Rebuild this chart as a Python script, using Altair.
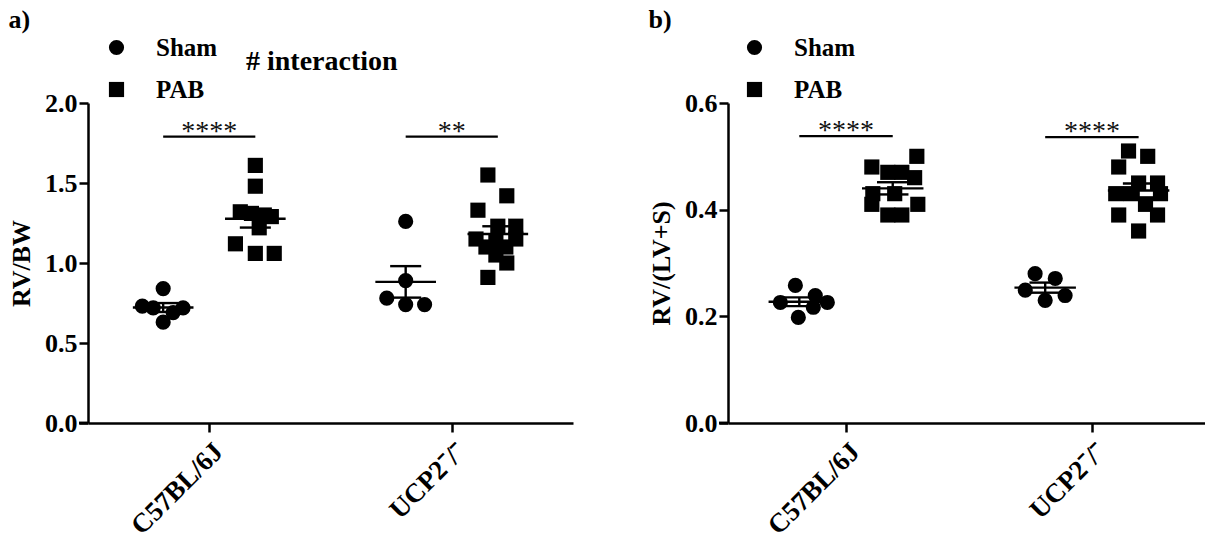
import altair as alt
import pandas as pd

FONT = "Liberation Serif"

strains = ["C57BL/6J", "UCP2⁻/⁻"]
groups = ["Sham", "PAB"]

# ---- Panel a: RV/BW ----
a_c57_sham = [0.84, 0.73, 0.72, 0.72, 0.69, 0.63]
a_c57_sham_jit = [0, -0.086, -0.041, 0.082, 0.041, 0]
a_c57_pab = [1.61, 1.48, 1.32, 1.31, 1.30, 1.29, 1.22, 1.12, 1.06, 1.06]
a_c57_pab_jit = [0, 0, -0.062, -0.016, 0.037, 0.066, 0.016, -0.082, 0, 0.078]
a_ucp_sham = [1.26, 0.89, 0.78, 0.74, 0.74]
a_ucp_sham_jit = [0, 0, -0.078, 0, 0.078]
a_ucp_pab = [1.55, 1.42, 1.33, 1.23, 1.23, 1.15, 1.14, 1.15, 1.10, 1.10, 1.05, 1.00, 0.91]
a_ucp_pab_jit = [-0.041, 0.037, -0.082, 0, 0.074, -0.09, -0.008, 0.074, -0.049, 0.033, -0.008, 0.037, -0.041]

# ---- Panel b: RV/(LV+S) ----
b_c57_sham = [0.258, 0.226, 0.239, 0.226, 0.217, 0.198]
b_c57_sham_jit = [-0.016, -0.077, 0.065, 0.114, 0.057, -0.004]
b_c57_pab = [0.50, 0.48, 0.47, 0.47, 0.46, 0.43, 0.43, 0.41, 0.41, 0.39, 0.39]
b_c57_pab_jit = [0.098, -0.085, -0.02, 0.037, 0.089, 0.008, -0.081, -0.085, 0.102, -0.02, 0.037]
b_ucp_sham = [0.28, 0.271, 0.249, 0.239, 0.23]
b_ucp_sham_jit = [-0.041, 0.041, -0.081, 0.081, 0]
b_ucp_pab = [0.51, 0.50, 0.48, 0.45, 0.45, 0.43, 0.43, 0.43, 0.41, 0.39, 0.39, 0.36]
b_ucp_pab_jit = [-0.041, 0.037, -0.081, 0, 0.077, -0.093, -0.033, 0.089, 0.028, -0.081, 0.077, 0]

# significance annotations
a_sig_labels = ["****", "**"]
a_sig_levels = [1.79, 1.79]
b_sig_labels = ["****", "****"]
b_sig_levels = [0.538, 0.536]

GOFF = 0.19


def make_df(sets):
    rows = []
    for si, g, vals, jits in sets:
        for v, j in zip(vals, jits):
            rows.append({"si": si, "group": g, "value": v, "jit": j})
    return pd.DataFrame(rows)


df_a = make_df([
    (1, "Sham", a_c57_sham, a_c57_sham_jit),
    (1, "PAB", a_c57_pab, a_c57_pab_jit),
    (2, "Sham", a_ucp_sham, a_ucp_sham_jit),
    (2, "PAB", a_ucp_pab, a_ucp_pab_jit),
])
df_b = make_df([
    (1, "Sham", b_c57_sham, b_c57_sham_jit),
    (1, "PAB", b_c57_pab, b_c57_pab_jit),
    (2, "Sham", b_ucp_sham, b_ucp_sham_jit),
    (2, "PAB", b_ucp_pab, b_ucp_pab_jit),
])
sig_a = pd.DataFrame({"si": [1, 2], "label": a_sig_labels, "level": a_sig_levels})
sig_b = pd.DataFrame({"si": [1, 2], "label": b_sig_labels, "level": b_sig_levels})

label_expr = f"datum.value == 1 ? '{strains[0]}' : '{strains[1]}'"


def panel(df, sig, ydomain, yvalues, ytitle, xdomain, width, title, legx, extra=None):
    xscale = alt.Scale(domain=xdomain, nice=False, zero=False)
    xaxis = alt.Axis(values=[1, 2], labelExpr=label_expr, title=None, labelAngle=315,
                     labelPadding=6, labelFontSize=27, grid=False)
    yscale = alt.Scale(domain=ydomain, nice=False, zero=True)
    yaxis = alt.Axis(values=yvalues, format=".1f", title=ytitle, grid=False, titlePadding=10)

    base = alt.Chart(df).transform_calculate(
        pos=f"datum.si + (datum.group == 'Sham' ? {-GOFF} : {GOFF})"
    )
    pts = base.transform_calculate(xp="datum.pos + datum.jit").mark_point(
        filled=True, color="black", opacity=1, size=230
    ).encode(
        x=alt.X("xp:Q", scale=xscale, axis=xaxis),
        y=alt.Y("value:Q", scale=yscale, axis=yaxis),
        shape=alt.Shape("group:N", scale=alt.Scale(domain=groups, range=["circle", "square"]),
                        legend=alt.Legend(orient="none", legendX=legx, legendY=-68, title=None,
                                          labelFont=FONT, labelFontSize=25, labelFontWeight="bold",
                                          labelColor="black", symbolSize=230, symbolFillColor="black",
                                          symbolStrokeColor="black", rowPadding=16, labelOffset=27,
                                          padding=0)),
    )
    stats = base.transform_aggregate(
        mean="mean(value)", sem="stderr(value)", groupby=["si", "group", "pos"]
    ).transform_calculate(
        lo="datum.mean - datum.sem", hi="datum.mean + datum.sem",
        xl="datum.pos - 0.125", xr="datum.pos + 0.125",
        cl="datum.pos - 0.064", cr="datum.pos + 0.064",
    )
    mean_rule = stats.mark_rule(color="black", strokeWidth=2.4).encode(
        x=alt.X("xl:Q", scale=xscale, axis=xaxis), x2="xr:Q",
        y=alt.Y("mean:Q", scale=yscale, axis=yaxis))
    vert = stats.mark_rule(color="black", strokeWidth=2.4).encode(
        x=alt.X("pos:Q", scale=xscale, axis=xaxis),
        y=alt.Y("lo:Q", scale=yscale, axis=yaxis), y2="hi:Q")
    cap_hi = stats.mark_rule(color="black", strokeWidth=2.4).encode(
        x=alt.X("cl:Q", scale=xscale, axis=xaxis), x2="cr:Q",
        y=alt.Y("hi:Q", scale=yscale, axis=yaxis))
    cap_lo = stats.mark_rule(color="black", strokeWidth=2.4).encode(
        x=alt.X("cl:Q", scale=xscale, axis=xaxis), x2="cr:Q",
        y=alt.Y("lo:Q", scale=yscale, axis=yaxis))

    sbase = alt.Chart(sig).transform_calculate(
        x1=f"datum.si - {GOFF}", x2=f"datum.si + {GOFF}"
    )
    sig_line = sbase.mark_rule(color="black", strokeWidth=2.2).encode(
        x=alt.X("x1:Q", scale=xscale, axis=xaxis), x2="x2:Q",
        y=alt.Y("level:Q", scale=yscale, axis=yaxis))
    sig_text = sbase.mark_text(font=FONT, fontSize=28, color="#111", baseline="alphabetic", dy=3).encode(
        x=alt.X("si:Q", scale=xscale, axis=xaxis),
        y=alt.Y("level:Q", scale=yscale, axis=yaxis),
        text="label:N")

    # short extension of the x-axis line to the left of the y-axis (GraphPad style)
    ext = alt.Chart(sig).mark_rule(color="black", strokeWidth=2.5).encode(
        x=alt.value(-9), x2=alt.value(0), y=alt.value(320))

    layers = [pts, mean_rule, vert, cap_hi, cap_lo, sig_line, sig_text, ext]
    if extra is not None:
        layers.append(extra)
    return alt.layer(*layers).properties(
        width=width, height=320,
        title=alt.TitleParams(title, anchor="start", frame="bounds", font=FONT, fontSize=26,
                              fontWeight="bold", color="black", offset=2),
    )


interaction = alt.Chart(pd.DataFrame({"t": ["# interaction"]})).mark_text(
    font=FONT, fontSize=28, fontWeight="bold", color="black", align="left", baseline="middle"
).encode(x=alt.value(158), y=alt.value(-41), text="t:N")

pa = panel(df_a, sig_a, [0, 2], [0, 0.5, 1.0, 1.5, 2.0], "RV/BW", [0.5, 2.5], 485, "a)", 16,
           extra=interaction)
pb = panel(df_b, sig_b, [0, 0.6], [0, 0.2, 0.4, 0.6], "RV/(LV+S)", [0.52, 2.46], 477, "b)", 14)

chart = alt.hconcat(pa, pb, spacing=75).resolve_scale(
    x="independent", y="independent", shape="independent"
).resolve_legend(shape="independent").properties(
    padding={"left": 8, "top": 7, "right": 0, "bottom": 0}
).configure_view(stroke=None).configure_axis(
    domainColor="black", domainWidth=2.5, tickColor="black", tickWidth=2.5, tickSize=9,
    labelFont=FONT, labelFontSize=26, labelFontWeight="bold", labelColor="black",
    titleFont=FONT, titleFontSize=26, titleFontWeight="bold", titleColor="black",
)

chart.save("out.html", embed_options={"renderer": "svg", "actions": False})
